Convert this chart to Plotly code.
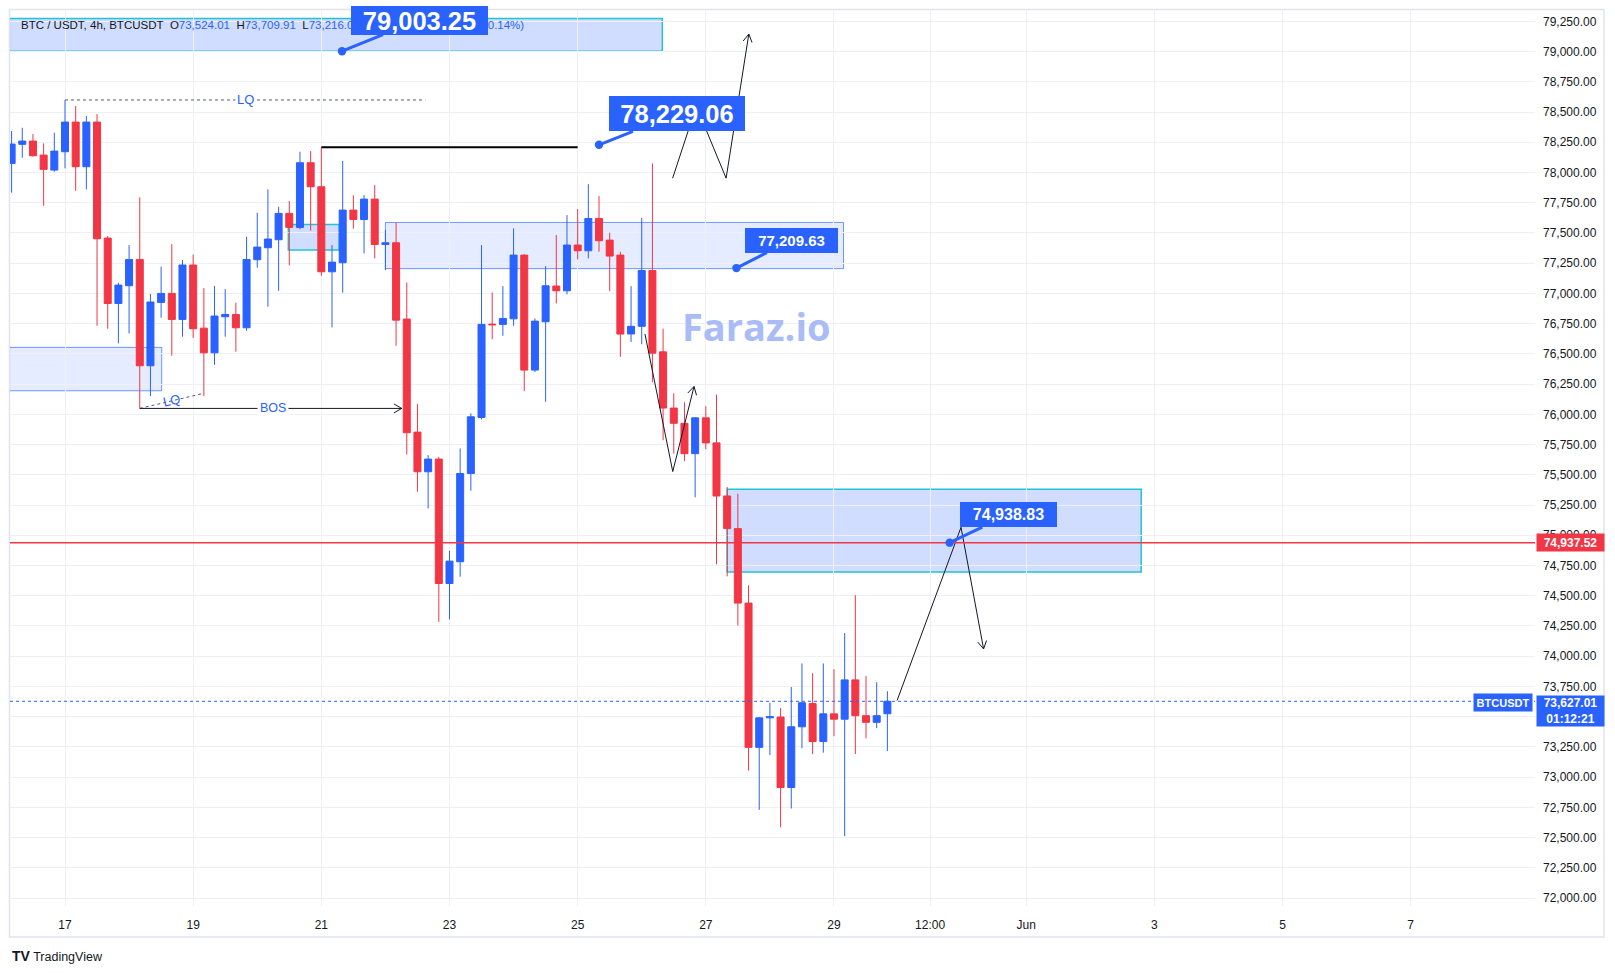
import math
import pandas as pd
import plotly.graph_objects as go

# ---------------- data (BTCUSDT, 4h candles) ----------------
start_time = "2024-05-16 04:00"
opens = [78075, 78233, 78260, 78144, 78020, 78172, 78417, 78048, 78417, 77458,
         76917, 77064, 77281, 76402, 76926, 77000, 76785, 77235, 76713, 76509,
         76807, 76826, 76716, 77279, 77378, 77444, 77662, 77546, 78081, 77882,
         77179, 77254, 77689, 77612, 77780, 77405, 77419, 76788, 75853, 75525,
         75630, 74601, 74781, 75511, 75974, 76746, 76744, 76790, 77317, 76366,
         76766, 77061, 77022, 77400, 77353, 77620, 77441, 77317, 76665, 76728,
         77189, 76517, 76052, 75926, 75675, 75971, 75764, 75325, 75055, 74439,
         73246, 73490, 73497, 72914, 73416, 73608, 73294, 73523, 73479, 73804,
         73508, 73453, 73524.01]
highs = [78343, 78370, 78318, 78241, 78329, 78599, 78550, 78467, 78483, 77474,
         77088, 77400, 77794, 76995, 77221, 77408, 77276, 77320, 77044, 77061,
         77036, 76923, 77469, 77667, 77860, 77717, 77764, 78172, 78177, 78208,
         77400, 78095, 77811, 77813, 77896, 77524, 77585, 77091, 76085, 75663,
         75649, 74872, 75718, 76008, 77400, 77008, 77061, 77538, 77325, 76793,
         77226, 77483, 77648, 77698, 77904, 77805, 77502, 77345, 77060, 77625,
         78075, 76709, 76174, 76100, 75978, 76067, 76163, 75399, 75343, 74586,
         73497, 73615, 73571, 73745, 73940, 73859, 73940, 73892, 74191, 74505,
         73837, 73785, 73709.91]
lows = [77833, 78122, 78131, 77725, 78007, 78034, 77849, 77860, 76733, 76708,
        76587, 76669, 76049, 76151, 76799, 76485, 76642, 76633, 76151, 76410,
        76642, 76518, 76691, 77212, 76890, 77022, 77232, 77530, 77519, 77146,
        76719, 77006, 77535, 77331, 77290, 77193, 76567, 75668, 75360, 75222,
        74284, 74304, 74657, 75368, 75958, 76622, 76650, 76733, 76192, 76350,
        76104, 76917, 76992, 77281, 77290, 77345, 77019, 76476, 76598, 76580,
        76266, 75786, 75675, 75613, 75314, 75712, 74760, 74660, 74254, 73054,
        72729, 73183, 72585, 72740, 73239, 73191, 73202, 73338, 72511, 73191,
        73320, 73405, 73216.01]
closes = [78235, 78260, 78139, 78026, 78177, 78417, 78048, 78417, 77452, 76917,
          77069, 77281, 76402, 76929, 77000, 76785, 77235, 76708, 76509, 76813,
          76826, 76716, 77281, 77383, 77450, 77662, 77546, 78081, 77882, 77179,
          77259, 77689, 77612, 77780, 77405, 77419, 76779, 75848, 75525, 75630,
          74601, 74786, 75511, 75980, 76744, 76741, 76793, 77317, 76366, 76771,
          77063, 77022, 77400, 77353, 77620, 77436, 77309, 76664, 76728, 77189,
          76506, 76052, 75926, 75675, 75971, 75764, 75325, 75055, 74439, 73246,
          73490, 73500, 72914, 73416, 73615, 73294, 73523, 73479, 73804, 73508,
          73453, 73508, 73627.01]

y_tick_values = list(range(72000, 79251, 250))
x_tick_values = ["2024-05-17", "2024-05-19", "2024-05-21", "2024-05-23", "2024-05-25",
                 "2024-05-27", "2024-05-29", "2024-05-30 12:00", "2024-06-01",
                 "2024-06-03", "2024-06-05", "2024-06-07"]
x_tick_text = ["17", "19", "21", "23", "25", "27", "29", "12:00", "Jun", "3", "5", "7"]

last_price = 73627.01
red_level = 74937.52
label_79003 = 79003.25
label_78229 = 78229.06
label_77209 = 77209.63
label_74938 = 74938.83

times = pd.date_range(start_time, periods=len(opens), freq="4h")

# ---------------- layout geometry ----------------
W, H = 1615, 973
PL, PR, PT, PB = 10, 1535, 10, 906
X_RANGE = ["2024-05-16 03:24", "2024-06-08 22:33"]
Y_RANGE = [71934, 79344]

BLUE = "#2962ff"
RED = "#f23645"
CYAN = "#22c3d6"
TXT = "#131722"
GRID = "#eef0f5"
FONT = "Liberation Sans, Arial, sans-serif"

X0 = pd.Timestamp(X_RANGE[0])
X1 = pd.Timestamp(X_RANGE[1])
sec_per_px = (X1 - X0).total_seconds() / (PR - PL)
price_per_px = (Y_RANGE[1] - Y_RANGE[0]) / (PB - PT)


def xp(px):
    return (px - PL) / (PR - PL)


def yp(py):
    return (PB - py) / (PB - PT)


fig = go.Figure()

fig.add_trace(go.Candlestick(
    x=times, open=opens, high=highs, low=lows, close=closes,
    increasing=dict(line=dict(color=BLUE, width=1), fillcolor=BLUE),
    decreasing=dict(line=dict(color=RED, width=1), fillcolor=RED),
    whiskerwidth=0, showlegend=False, hoverinfo="skip",
))


def line_trace(ts, ps, color=TXT, width=1, dash="solid"):
    fig.add_trace(go.Scatter(x=ts, y=ps, mode="lines",
                             line=dict(color=color, width=width, dash=dash),
                             hoverinfo="skip", showlegend=False))


def arrow_head(t_from, p_from, t_to, p_to, size=9, spread=30, color=TXT, width=1):
    tf, tt = pd.Timestamp(t_from), pd.Timestamp(t_to)
    dx = (tt - tf).total_seconds() / sec_per_px
    dy = -(p_to - p_from) / price_per_px
    ang = math.atan2(dy, dx)
    pts_t, pts_p = [], []
    for s in (spread, -spread):
        a = ang + math.pi + math.radians(s)
        wx, wy = size * math.cos(a), size * math.sin(a)
        pts_t.append(tt + pd.Timedelta(seconds=wx * sec_per_px))
        pts_p.append(p_to - wy * price_per_px)
    line_trace([pts_t[0], tt, pts_t[1]], [pts_p[0], p_to, pts_p[1]], color, width)


def path_with_arrow(ts, ps, color=TXT, width=1):
    line_trace(ts, ps, color, width)
    arrow_head(ts[-2], ps[-2], ts[-1], ps[-1], color=color, width=width)


# drawings
zz_top_t = ["2024-05-26 11:34", "2024-05-26 20:27", "2024-05-27 07:36", "2024-05-27 16:06"]
zz_top_p = [77953, 78549, 77953, 79145]
zz_low_t = ["2024-05-26 01:13", "2024-05-26 11:37", "2024-05-26 19:35"]
zz_low_p = [76664, 75527, 76230]
proj_t = ["2024-05-29 23:39", "2024-05-30 23:35", "2024-05-31 08:02"]
proj_p = [73634, 75066, 74060]

# LQ / BOS lines
line_trace(["2024-05-17 00:00", "2024-05-22 14:58"], [78600, 78600], "#555a66", 1, "dot")
line_trace(["2024-05-18 04:00", "2024-05-19 04:00"], [76049, 76174], "#555a66", 1, "dot")
line_trace(["2024-05-21 00:00", "2024-05-25 00:00"], [78208, 78208], "#000000", 2)
path_with_arrow(["2024-05-18 04:00", "2024-05-22 06:06"], [76049, 76049])
path_with_arrow(zz_top_t, zz_top_p)
path_with_arrow(zz_low_t, zz_low_p)
path_with_arrow(proj_t, proj_p)

# ---------------- shapes ----------------
shapes = []


def box(t0, t1, p0, p1, fill, line, lw=1):
    shapes.append(dict(type="rect", xref="x", yref="y", x0=t0, x1=t1, y0=p0, y1=p1,
                       fillcolor=fill, line=dict(color=line, width=lw), layer="below"))


box("2024-05-15 12:00", "2024-05-26 07:42", label_79003, 79273, "rgba(41,98,255,0.22)", CYAN, 1.5)
box("2024-05-20 11:38", "2024-05-21 06:44", 77359, 77571, "rgba(41,98,255,0.22)", CYAN, 1.5)
box("2024-05-22 00:00", "2024-05-29 03:34", 77205, 77587, "rgba(41,98,255,0.12)", "rgba(41,98,255,0.65)", 1)
box("2024-05-15 12:00", "2024-05-18 12:13", 76195, 76554, "rgba(41,98,255,0.12)", "rgba(41,98,255,0.65)", 1)
box("2024-05-27 08:00", "2024-06-02 19:04", 74697, 75380, "rgba(41,98,255,0.22)", CYAN, 1.5)

# horizontal price lines
shapes.append(dict(type="line", xref="paper", yref="y", x0=0, x1=1, y0=red_level, y1=red_level,
                   line=dict(color=RED, width=1.5), layer="above"))
shapes.append(dict(type="line", xref="paper", yref="y", x0=0, x1=1, y0=last_price, y1=last_price,
                   line=dict(color=BLUE, width=1, dash="dot"), layer="above"))
# chart frame
shapes.append(dict(type="rect", xref="paper", yref="paper", x0=xp(9.5), x1=xp(1604), y0=yp(937),
                   y1=yp(9.5), line=dict(color="#e0e3eb", width=1.5), fillcolor="rgba(0,0,0,0)",
                   layer="below"))

# ---------------- annotations ----------------
ann = []
nb = "\u00a0"


def blue(s):
    return f'<span style="color:{BLUE}">{s}</span>'


header = (f"BTC / USDT, 4h, BTCUSDT{nb}{nb}O{blue('73,524.01')}{nb}{nb}H{blue('73,709.91')}"
          f"{nb}{nb}L{blue('73,216.01')}{nb}{nb}C{blue('73,627.01')}{nb}{nb}{blue('+103.00 (+0.14%)')}")
ann.append(dict(xref="paper", yref="paper", x=xp(18.5), y=yp(24.7), xanchor="left", yanchor="middle",
                text=header, showarrow=False, font=dict(family=FONT, size=11.5, color=TXT)))

# watermark
ann.append(dict(xref="paper", yref="paper", x=xp(756), y=yp(325.5), text="<b>Faraz.io</b>",
                showarrow=False, font=dict(family="Open Sans, sans-serif", size=38, color="#a9bcf8")))

# LQ / BOS texts
ann.append(dict(x="2024-05-19 19:47", y=78600, text="LQ", showarrow=False, bgcolor="white",
                font=dict(family=FONT, size=13, color=BLUE), borderpad=1))
ann.append(dict(x="2024-05-18 15:58", y=76118, text="LQ", showarrow=False, textangle=-13,
                font=dict(family=FONT, size=13, color=BLUE)))
ann.append(dict(x="2024-05-20 05:54", y=76049, text="BOS", showarrow=False, bgcolor="white",
                font=dict(family=FONT, size=12.5, color=BLUE), borderpad=2))


def callout(t, p, text, ax, ay, w, h, size):
    ann.append(dict(x=t, y=p, xref="x", yref="y", text=f"<b>{text}</b>", showarrow=True,
                    ax=ax, ay=ay, arrowhead=6, arrowsize=0.7, arrowwidth=3, arrowcolor=BLUE,
                    bgcolor=BLUE, bordercolor=BLUE, borderwidth=0, borderpad=0,
                    width=w, height=h, align="center", valign="middle",
                    font=dict(family=FONT, size=size, color="white")))


callout("2024-05-21 07:45", label_79003, "79,003.25", 77, -31, 137, 29, 25.5)
callout("2024-05-25 08:00", label_78229, "78,229.06", 78, -31, 136, 35, 25.5)
callout("2024-05-27 11:28", label_77209, "77,209.63", 55, -28, 93, 25, 15)
callout("2024-05-30 19:19", label_74938, "74,938.83", 59, -28, 97, 25, 16)

# price-scale labels
ann.append(dict(xref="paper", yref="y", x=1.0, y=red_level, xanchor="left", yanchor="middle",
                xshift=1, text=f"<b>{red_level:,.2f}</b>", showarrow=False, bgcolor=RED, width=65,
                height=15, font=dict(family=FONT, size=12, color="white")))
ann.append(dict(xref="paper", yref="paper", x=1.0, y=yp(695), xanchor="left", yanchor="top",
                xshift=1, text=f"<b>{last_price:,.2f}<br>01:12:21</b>", showarrow=False, bgcolor=BLUE,
                width=65, height=28, font=dict(family=FONT, size=12, color="white")))
ann.append(dict(xref="paper", yref="paper", x=xp(1533), y=yp(702.5), xanchor="right",
                yanchor="middle", text="<b>BTCUSDT</b>", showarrow=False, bgcolor=BLUE, width=56,
                height=15, font=dict(family=FONT, size=11, color="white")))

# TradingView logo
ann.append(dict(xref="paper", yref="paper", x=xp(10), y=yp(956), xanchor="left", yanchor="middle",
                text='<b><span style="font-size:14px">TV</span></b> TradingView', showarrow=False,
                font=dict(family=FONT, size=12.5, color=TXT)))

fig.update_layout(
    width=W, height=H, autosize=False,
    margin=dict(l=PL, r=W - PR, t=PT, b=H - PB, pad=0),
    paper_bgcolor="white", plot_bgcolor="white",
    boxgap=0.2, boxgroupgap=0.18,
    shapes=shapes, annotations=ann, showlegend=False,
    font=dict(family=FONT, size=12, color=TXT),
    xaxis=dict(type="date", range=X_RANGE, tickvals=x_tick_values, ticktext=x_tick_text,
               showgrid=True, gridcolor=GRID, gridwidth=1, zeroline=False, showline=False,
               ticks="", tickfont=dict(family=FONT, size=12, color=TXT),
               ticklabelstandoff=10, rangeslider=dict(visible=False), fixedrange=True),
    yaxis=dict(range=Y_RANGE, side="right", tickvals=y_tick_values, tickformat=",.2f",
               showgrid=True, gridcolor=GRID, gridwidth=1, zeroline=False, showline=False,
               ticks="", tickfont=dict(family=FONT, size=12, color=TXT), ticklabelstandoff=7,
               fixedrange=True),
)

fig.write_html("out.html", config={"displayModeBar": False},
               post_script="document.body.style.margin='0';")
